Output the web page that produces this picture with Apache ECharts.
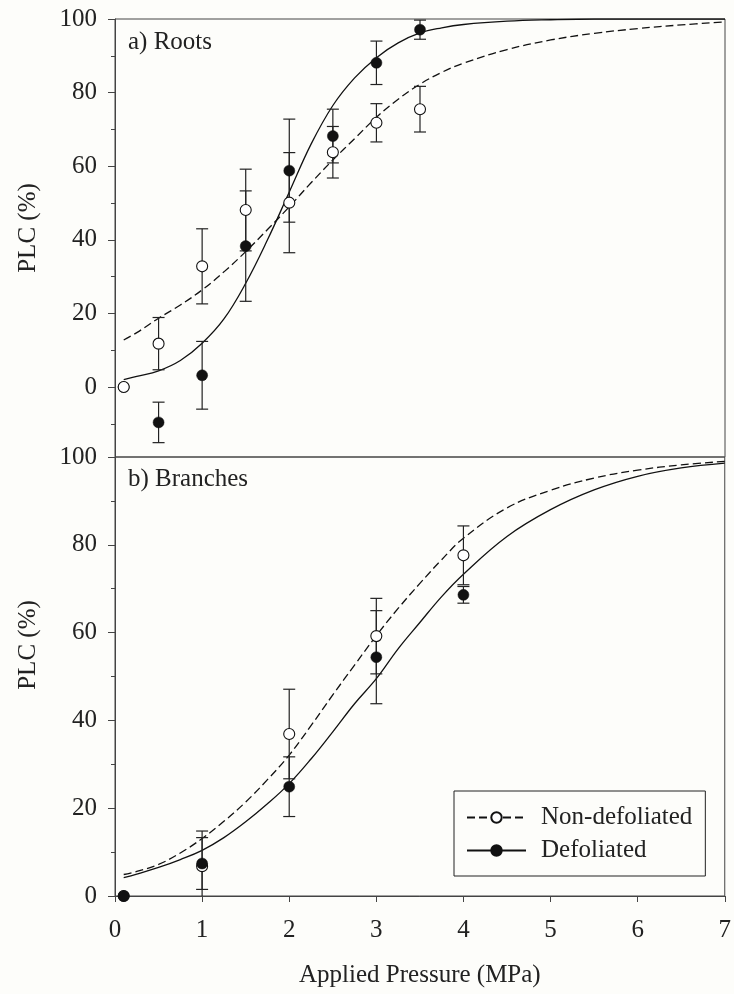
<!DOCTYPE html>
<html><head><meta charset="utf-8">
<script src="https://cdn.jsdelivr.net/npm/echarts@6/dist/echarts.min.js"></script>
<style>html,body{margin:0;padding:0;background:#fdfdfa;} #chart{width:734px;height:994px;}</style>
</head><body><div id="chart"></div>
<script>
// ---------- data ----------
const panelTitles = ['a) Roots', 'b) Branches'];
const seriesNames = ['Non-defoliated', 'Defoliated'];
const xAxisTitle = 'Applied Pressure (MPa)';
const yAxisTitle = 'PLC (%)';

// a) Roots : measured points
const rootsPressure = [0.1, 0.5, 1, 1.5, 2, 2.5, 3, 3.5];
const rootsNonDef = [0, 11.8, 32.8, 48.1, 50.1, 63.8, 71.8, 75.5];
const rootsNonDefErr = [0, 7.1, 10.2, 11.1, 13.6, 7.0, 5.2, 6.2];
const rootsDef = [0, -9.6, 3.2, 38.3, 58.8, 68.2, 88.1, 97.1];
const rootsDefErr = [0, 5.5, 9.2, 15.0, 14.0, 7.3, 5.9, 2.6];

// b) Branches : measured points
const branchPressure = [0.1, 1, 2, 3, 4];
const branchNonDef = [0, 6.8, 36.9, 59.2, 77.6];
const branchNonDefErr = [0, 8.0, 10.2, 8.6, 6.7];
const branchDef = [0, 7.4, 24.9, 54.4, 68.6];
const branchDefErr = [0, 5.9, 6.8, 10.6, 1.9];

// fitted curves
const curvePressure = [0.1, 0.25, 0.5, 0.75, 1, 1.25, 1.5, 1.75, 2, 2.25, 2.5, 2.75, 3, 3.25, 3.5, 3.75, 4, 4.5, 5, 5.5, 6, 6.5, 7];
const rootsNonDefCurve = [12.8, 14.8, 18.7, 22.3, 26.4, 31.3, 36.8, 42.8, 49.0, 55.5, 61.7, 67.5, 73.3, 78.2, 82.3, 85.5, 88.0, 91.7, 94.3, 96.1, 97.4, 98.4, 99.2];
const rootsDefCurve = [2.0, 2.9, 4.4, 7.2, 11.9, 18.5, 28.2, 40.0, 53.0, 66.0, 76.5, 84.0, 89.5, 93.5, 96.2, 97.6, 98.5, 99.4, 99.8, 100, 100, 100, 100];
const branchNonDefCurve = [4.9, 5.6, 7.2, 9.8, 13.1, 17.0, 21.4, 26.5, 32.1, 38.8, 45.8, 52.6, 59.3, 65.5, 71.2, 76.6, 81.5, 88.4, 92.4, 95.2, 97.0, 98.2, 99.0];
const branchDefCurve = [4.2, 5.0, 6.5, 8.3, 10.4, 13.3, 16.9, 21.0, 25.6, 31.2, 37.4, 43.8, 49.5, 56.3, 62.3, 68.2, 73.3, 81.9, 88.0, 92.5, 95.6, 97.5, 98.6];

// ---------- chart ----------
const FONT = '"Liberation Serif", "Times New Roman", serif';
const INK = '#222';
const AXIS = '#444';

function pairs(xs, ys) { return xs.map((x, i) => [x, ys[i]]); }

function errorSeries(xs, ys, errs, idx, z) {
  const data = [];
  xs.forEach((x, i) => { if (errs[i] > 0) data.push([x, ys[i] - errs[i], ys[i] + errs[i]]); });
  return {
    type: 'custom', xAxisIndex: idx, yAxisIndex: idx, clip: true, silent: true, z: z,
    data: data, encode: { x: 0, y: [1, 2] },
    renderItem: function (params, api) {
      const x = api.value(0), lo = api.value(1), hi = api.value(2);
      const t = api.coord([x, hi]), b = api.coord([x, lo]);
      const hw = 6;
      const st = { stroke: INK, lineWidth: 1.2, fill: null };
      return { type: 'group', children: [
        { type: 'line', shape: { x1: t[0], y1: t[1], x2: b[0], y2: b[1] }, style: st },
        { type: 'line', shape: { x1: t[0] - hw, y1: t[1], x2: t[0] + hw, y2: t[1] }, style: st },
        { type: 'line', shape: { x1: b[0] - hw, y1: b[1], x2: b[0] + hw, y2: b[1] }, style: st }
      ] };
    }
  };
}

function pointSeries(name, xs, ys, idx, open, z) {
  return {
    type: 'scatter', name: name, xAxisIndex: idx, yAxisIndex: idx, silent: true, z: z,
    symbol: 'circle', symbolSize: 11,
    itemStyle: open ? { color: '#fff', borderColor: '#111', borderWidth: 1.1, opacity: 1 } : { color: '#111', borderColor: '#111', borderWidth: 0.5, opacity: 1 },
    data: pairs(xs, ys)
  };
}

function curveSeries(name, ys, idx, dashed, z) {
  return {
    type: 'line', name: name, xAxisIndex: idx, yAxisIndex: idx, silent: true, z: z,
    smooth: 0.4, symbol: 'circle', showSymbol: false, symbolSize: 11,
    itemStyle: dashed ? { color: '#fff', borderColor: '#111', borderWidth: 1.1 } : { color: '#111', borderColor: '#111', borderWidth: 1 },
    lineStyle: { color: '#111', width: 1.3, type: dashed ? [8, 4] : 'solid' },
    emphasis: { disabled: true },
    data: pairs(curvePressure, ys)
  };
}

const yAxisCommon = {
  type: 'value',
  axisLine: { show: true, lineStyle: { color: AXIS, width: 1 } },
  axisTick: { show: true, inside: false, length: 7, lineStyle: { color: AXIS } },
  minorTick: { show: true, splitNumber: 2, length: 4, lineStyle: { color: AXIS } },
  splitLine: { show: false },
  axisLabel: { color: INK, fontFamily: FONT, fontSize: 25, margin: 18 }
};

const chart = echarts.init(document.getElementById('chart'), null, { renderer: 'canvas' });
chart.setOption({
  backgroundColor: '#fdfdfa',
  animation: false,
  grid: [
    { left: 115, top: 19, width: 610, height: 438, show: true, borderColor: AXIS, borderWidth: 1, backgroundColor: 'transparent' },
    { left: 115, top: 457, width: 610, height: 439, show: true, borderColor: AXIS, borderWidth: 1, backgroundColor: 'transparent' }
  ],
  xAxis: [
    { type: 'value', gridIndex: 0, min: 0, max: 7, interval: 1,
      axisLine: { show: false }, axisTick: { show: false }, axisLabel: { show: false }, splitLine: { show: false } },
    { type: 'value', gridIndex: 1, min: 0, max: 7, interval: 1,
      axisLine: { show: true, lineStyle: { color: AXIS, width: 1 } },
      axisTick: { show: true, inside: false, length: 6, lineStyle: { color: AXIS } },
      splitLine: { show: false },
      axisLabel: { color: INK, fontFamily: FONT, fontSize: 25, margin: 22 },
      name: xAxisTitle, nameLocation: 'middle', nameGap: 67,
      nameTextStyle: { color: INK, fontFamily: FONT, fontSize: 25 } }
  ],
  yAxis: [
    Object.assign({}, yAxisCommon, { gridIndex: 0, min: -19, max: 100, splitNumber: 6,
      axisLabel: Object.assign({}, yAxisCommon.axisLabel, { formatter: function (v) { return v < 0 ? '' : String(v); } }) }),
    Object.assign({}, yAxisCommon, { gridIndex: 1, min: 0, max: 100, interval: 20 })
  ],
  legend: {
    data: seriesNames,
    orient: 'vertical', left: 454, top: 791,
    padding: [14, 13, 13, 12], itemGap: 8,
    itemWidth: 59, itemHeight: 13,
    borderColor: INK, borderWidth: 1, backgroundColor: '#fdfdfa',
    selectedMode: false,
    textStyle: { color: INK, fontFamily: FONT, fontSize: 25, padding: [0, 0, 0, 10] }
  },
  graphic: [
    { type: 'text', left: 128, top: 30, silent: true, style: { text: panelTitles[0], fill: INK, font: '25px ' + FONT } },
    { type: 'text', left: 128, top: 467, silent: true, style: { text: panelTitles[1], fill: INK, font: '25px ' + FONT } },
    { type: 'text', x: 28, y: 228, rotation: Math.PI / 2, silent: true, style: { text: yAxisTitle, fill: INK, font: '25px ' + FONT, align: 'center', verticalAlign: 'middle' } },
    { type: 'text', x: 28, y: 645, rotation: Math.PI / 2, silent: true, style: { text: yAxisTitle, fill: INK, font: '25px ' + FONT, align: 'center', verticalAlign: 'middle' } }
  ],
  series: [
    curveSeries(seriesNames[0], branchNonDefCurve, 1, true, 2),
    curveSeries(seriesNames[1], branchDefCurve, 1, false, 2),
    curveSeries('roots-nd-curve', rootsNonDefCurve, 0, true, 2),
    curveSeries('roots-d-curve', rootsDefCurve, 0, false, 2),
    errorSeries(rootsPressure, rootsDef, rootsDefErr, 0, 3),
    errorSeries(rootsPressure, rootsNonDef, rootsNonDefErr, 0, 3),
    pointSeries('roots-d', rootsPressure, rootsDef, 0, false, 4),
    pointSeries('roots-nd', rootsPressure, rootsNonDef, 0, true, 5),
    errorSeries(branchPressure, branchNonDef, branchNonDefErr, 1, 3),
    errorSeries(branchPressure, branchDef, branchDefErr, 1, 3),
    pointSeries('branch-nd', branchPressure, branchNonDef, 1, true, 4),
    pointSeries('branch-d', branchPressure, branchDef, 1, false, 5)
  ]
});
</script>
</body></html>
